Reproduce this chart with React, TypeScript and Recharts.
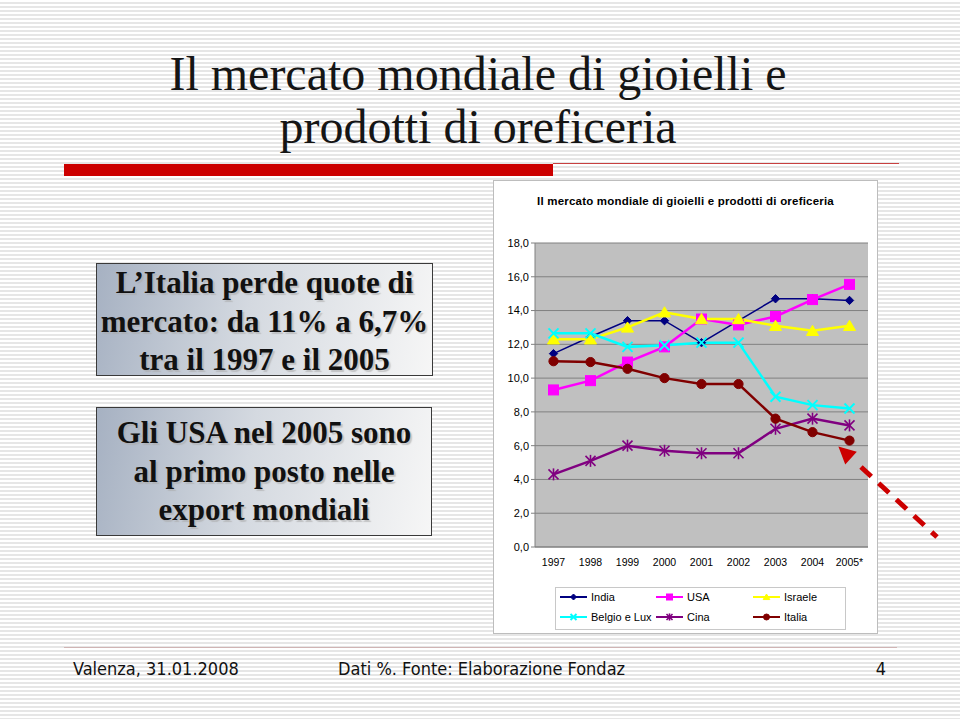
import React from 'react';
import { LineChart, Line, XAxis, YAxis, CartesianGrid, Legend } from 'recharts';

// ---- data ----
const years = ['1997', '1998', '1999', '2000', '2001', '2002', '2003', '2004', '2005*'];
const india = [11.45, 12.45, 13.4, 13.4, 12.1, 13.4, 14.7, 14.7, 14.6];
const usa = [9.3, 9.85, 10.95, 11.85, 13.5, 13.15, 13.65, 14.65, 15.55];
const israele = [12.3, 12.3, 13.0, 13.9, 13.5, 13.5, 13.1, 12.8, 13.1];
const belgioLux = [12.65, 12.65, 11.85, 11.95, 12.1, 12.1, 8.9, 8.4, 8.2];
const cina = [4.3, 5.1, 6.0, 5.7, 5.55, 5.55, 7.0, 7.6, 7.2];
const italia = [11.0, 10.95, 10.55, 10.0, 9.65, 9.65, 7.6, 6.8, 6.3];
const yTicks = [0, 2, 4, 6, 8, 10, 12, 14, 16, 18];
const seriesNames = ['India', 'USA', 'Israele', 'Belgio e Lux', 'Cina', 'Italia'];

type Kind = 'diamond' | 'square' | 'triangle' | 'x' | 'star' | 'circle';

const seriesStyle: { color: string; kind: Kind; width: number }[] = [
  { color: '#000080', kind: 'diamond', width: 1.5 },
  { color: '#ff00ff', kind: 'square', width: 2.5 },
  { color: '#ffff00', kind: 'triangle', width: 2.5 },
  { color: '#00ffff', kind: 'x', width: 2.5 },
  { color: '#800080', kind: 'star', width: 2.5 },
  { color: '#800000', kind: 'circle', width: 2.5 },
];
const seriesValues = [india, usa, israele, belgioLux, cina, italia];

const data = years.map((y, i) => {
  const row: Record<string, string | number> = { year: y };
  seriesNames.forEach((n, s) => {
    row[n] = seriesValues[s][i];
  });
  return row;
});

const boundaryTicks = years.map((_, i) => i).concat([years.length]);

const fmt = (v: number) => v.toFixed(1).replace('.', ',');

function marker(kind: Kind, cx: number, cy: number, color: string, s: number, key?: React.Key) {
  switch (kind) {
    case 'diamond':
      return (
        <polygon key={key} points={`${cx},${cy - s} ${cx + s},${cy} ${cx},${cy + s} ${cx - s},${cy}`} fill={color} stroke={color} strokeWidth={1} />
      );
    case 'square':
      return <rect key={key} x={cx - s} y={cy - s} width={2 * s} height={2 * s} fill={color} stroke={color} />;
    case 'triangle':
      return (
        <polygon key={key} points={`${cx},${cy - s} ${cx + s * 1.1},${cy + s * 0.85} ${cx - s * 1.1},${cy + s * 0.85}`} fill={color} stroke={color} />
      );
    case 'x':
      return (
        <g key={key} stroke={color} strokeWidth={2}>
          <line x1={cx - s} y1={cy - s} x2={cx + s} y2={cy + s} />
          <line x1={cx - s} y1={cy + s} x2={cx + s} y2={cy - s} />
        </g>
      );
    case 'star':
      return (
        <g key={key} stroke={color} strokeWidth={1.6}>
          <line x1={cx - s} y1={cy - s} x2={cx + s} y2={cy + s} />
          <line x1={cx - s} y1={cy + s} x2={cx + s} y2={cy - s} />
          <line x1={cx} y1={cy - s * 1.2} x2={cx} y2={cy + s * 1.2} />
        </g>
      );
    case 'circle':
    default:
      return <circle key={key} cx={cx} cy={cy} r={s} fill={color} stroke={color} />;
  }
}

const dotSize: Record<Kind, number> = { diamond: 4.2, square: 5, triangle: 5.5, x: 5, star: 5, circle: 4.6 };

function LegendBox() {
  const cols = [5, 101, 198];
  const rows = [10, 30];
  return (
    <div
      style={{
        position: 'relative',
        width: 291,
        height: 43,
        boxSizing: 'border-box',
        border: '1px solid #c8c8c8',
        background: '#fff',
        fontFamily: '"Liberation Sans", Arial, sans-serif',
        fontSize: 11,
        color: '#000',
      }}
    >
      {seriesNames.map((name, i) => {
        const st = seriesStyle[i];
        const x = cols[i % 3];
        const y = rows[Math.floor(i / 3)];
        return (
          <div key={name} style={{ position: 'absolute', left: x - 1, top: y - 1 - 7, height: 14, display: 'flex', alignItems: 'center' }}>
            <svg width={28} height={14} style={{ display: 'block' }}>
              <line x1={0} y1={7} x2={27} y2={7} stroke={st.color} strokeWidth={2} />
              {marker(st.kind, 13.5, 7, st.color, 3)}
            </svg>
            <span style={{ marginLeft: 3, lineHeight: '14px', whiteSpace: 'nowrap' }}>{name}</span>
          </div>
        );
      })}
    </div>
  );
}

const serifBold: React.CSSProperties = {
  fontFamily: '"Liberation Serif", "Times New Roman", serif',
  fontWeight: 'bold',
  fontSize: 31,
  lineHeight: '38.5px',
  color: '#111',
  textAlign: 'center',
  textShadow: '2px 2px 1px rgba(170,170,170,0.6)',
  whiteSpace: 'nowrap',
};

const boxStyle: React.CSSProperties = {
  position: 'absolute',
  boxSizing: 'border-box',
  border: '1.5px solid #3a3a3a',
  background: 'linear-gradient(100deg, #a6b1c2 0%, #d4d9e0 45%, #f6f6f6 100%)',
};

const footerFont: React.CSSProperties = {
  position: 'absolute',
  top: 657,
  fontFamily: '"DejaVu Sans Condensed", "DejaVu Sans", sans-serif',
  fontSize: 18,
  lineHeight: '24px',
  color: '#111',
  whiteSpace: 'nowrap',
};

export default function App() {
  return (
    <div
      style={{
        position: 'absolute',
        left: 0,
        top: 0,
        width: 960,
        height: 719,
        overflow: 'hidden',
        background: 'repeating-linear-gradient(180deg, #ffffff 0px, #ffffff 2px, #e6e6e6 2px, #e6e6e6 4px)',
      }}
    >
      {/* Title */}
      <div
        style={{
          position: 'absolute',
          left: 64,
          width: 828,
          top: 47,
          textAlign: 'center',
          fontFamily: '"Liberation Serif", "Times New Roman", serif',
          fontSize: 48,
          lineHeight: '53px',
          color: '#151515',
          whiteSpace: 'nowrap',
        }}
      >
        Il mercato mondiale di gioielli e
        <br />
        prodotti di oreficeria
      </div>

      {/* red rule */}
      <div style={{ position: 'absolute', left: 553, top: 163, width: 346, height: 1, background: '#c84040' }} />
      <div style={{ position: 'absolute', left: 64, top: 164, width: 489, height: 12, background: '#cc0000' }} />

      {/* Text boxes */}
      <div style={{ ...boxStyle, left: 96, top: 263, width: 337, height: 113 }} />
      <div style={{ ...serifBold, position: 'absolute', left: 96, width: 337, top: 264 }}>
        L’Italia perde quote di
        <br />
        mercato: da 11% a 6,7%
        <br />
        tra il 1997 e il 2005
      </div>

      <div style={{ ...boxStyle, left: 96, top: 407, width: 336, height: 129 }} />
      <div style={{ ...serifBold, position: 'absolute', left: 96, width: 336, top: 414 }}>
        Gli USA nel 2005 sono
        <br />
        al primo posto nelle
        <br />
        export mondiali
      </div>

      {/* Chart panel */}
      <div
        style={{
          position: 'absolute',
          left: 493,
          top: 180,
          width: 385,
          height: 454,
          boxSizing: 'border-box',
          border: '1px solid #bdbdbd',
          background: '#ffffff',
        }}
      >
        <div
          style={{
            position: 'absolute',
            left: 0,
            right: 0,
            top: 12,
            textAlign: 'center',
            fontFamily: '"Liberation Sans", Arial, sans-serif',
            fontWeight: 'bold',
            fontSize: 11.5,
            letterSpacing: 0.2,
            lineHeight: '16px',
            color: '#000',
            whiteSpace: 'nowrap',
          }}
        >
          Il mercato mondiale di gioielli e prodotti di oreficeria
        </div>
        <div style={{ position: 'absolute', left: -1, top: -1 }}>
          <LineChart width={385} height={454} data={data} margin={{ top: 63, right: 10, left: 0, bottom: 4 }}>
            <CartesianGrid vertical={false} fill="#c0c0c0" fillOpacity={1} stroke="#808080" strokeWidth={1} />
            <XAxis
              xAxisId={0}
              type="number"
              domain={[0, years.length]}
              ticks={boundaryTicks}
              height={0}
              axisLine={false}
              tick={() => <g />}
              tickSize={4}
              tickLine={{ stroke: '#808080' }}
              allowDataOverflow
            />
            <XAxis
              xAxisId="cat"
              dataKey="year"
              scale="band"
              height={40}
              interval={0}
              tickLine={false}
              tickMargin={6}
              axisLine={{ stroke: '#808080' }}
              tick={{ fontSize: 10.5, fill: '#000', fontFamily: '"Liberation Sans", Arial, sans-serif' }}
            />
            <YAxis
              yAxisId={0}
              width={42}
              domain={[0, 18]}
              ticks={yTicks}
              interval={0}
              tickFormatter={fmt}
              tickSize={4}
              tickLine={{ stroke: '#808080' }}
              axisLine={{ stroke: '#808080' }}
              tick={{ fontSize: 11, fill: '#000', fontFamily: '"Liberation Sans", Arial, sans-serif' }}
            />
            <YAxis
              yAxisId="r"
              orientation="right"
              width={0}
              domain={[0, 18]}
              tick={false}
              tickLine={false}
              axisLine={{ stroke: '#808080' }}
            />
            {seriesNames.map((name, i) => {
              const st = seriesStyle[i];
              return (
                <Line
                  key={name}
                  xAxisId="cat"
                  yAxisId={0}
                  type="linear"
                  dataKey={name}
                  stroke={st.color}
                  strokeWidth={st.width}
                  isAnimationActive={false}
                  activeDot={false}
                  dot={(p: any) => marker(st.kind, p.cx, p.cy, st.color, dotSize[st.kind], `${name}-${p.index}`)}
                />
              );
            })}
            <Legend
              verticalAlign="bottom"
              align="left"
              content={() => <LegendBox />}
              wrapperStyle={{ left: 62, bottom: 4, width: 291, height: 43 }}
            />
          </LineChart>
        </div>
      </div>

      {/* Arrow */}
      <svg width={960} height={719} style={{ position: 'absolute', left: 0, top: 0, pointerEvents: 'none' }}>
        <polygon points="840,448 845.6,462.7 855,452.3" fill="#cc0000" stroke="#cc0000" strokeWidth={2} />
        <line x1={861} y1={467} x2={937} y2={537} stroke="#cc0000" strokeWidth={5} strokeDasharray="14 10" />
      </svg>

      {/* Footer */}
      <div style={{ position: 'absolute', left: 64, top: 647, width: 833, height: 1, background: '#d0b4b4' }} />
      <div style={{ ...footerFont, left: 73 }}>Valenza, 31.01.2008</div>
      <div style={{ ...footerFont, left: 338 }}>Dati %. Fonte: Elaborazione Fondaz</div>
      <div style={{ ...footerFont, left: 856, width: 30, textAlign: 'right' }}>4</div>
    </div>
  );
}
